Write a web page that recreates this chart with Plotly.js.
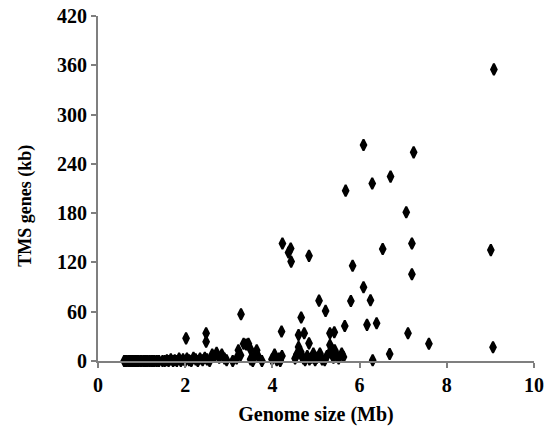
<!DOCTYPE html>
<html>
<head>
<meta charset="utf-8">
<script src="https://cdn.plot.ly/plotly-3.0.1.min.js"></script>
<style>html,body{margin:0;padding:0;background:#fff;}#chart{width:545px;height:427px;}</style>
</head>
<body>
<div id="chart"></div>
<script>
// Genome size (Mb) and TMS genes (kb)
const genomeSize = [
  0.60,0.63,0.66,0.70,0.73,0.76,0.80,0.83,0.87,0.90,0.93,0.97,1.00,1.04,1.07,1.10,1.14,1.18,1.22,1.26,1.30,1.35,1.40,
  1.48,1.53,1.58,1.62,1.67,1.72,1.76,1.81,1.86,1.90,1.95,2.00,2.04,2.09,2.14,2.19,2.24,2.29,2.34,2.40,2.45,2.50,2.56,
  2.62,2.67,2.72,2.78,2.84,2.90,2.95,3.09,
  3.18,3.22,3.27,3.34,3.40,3.45,3.50,3.55,3.60,3.64,3.68,3.76,3.50,
  3.99,4.05,4.10,4.15,4.18,4.22,
  4.52,4.56,4.60,4.65,4.68,4.71,4.75,4.80,4.85,4.90,4.94,4.98,5.02,5.09,5.14,5.20,5.25,5.32,5.36,5.32,5.40,5.43,5.48,5.52,5.59,5.63,
  2.02,2.48,2.48,3.28,4.21,4.23,4.42,4.37,4.43,4.84,4.60,4.73,4.66,4.84,5.07,5.22,5.32,5.42,5.66,5.80,5.84,6.09,6.25,6.17,6.39,
  6.30,6.69,7.11,7.59,5.68,6.09,7.24,6.71,6.29,7.07,7.20,7.20,6.53,9.01,9.08,9.06
];
const tmsGenes = [
  0,0,0,0,0,0,0,0,0,0,0,0,0,0,0,0,0,0,0,0,0,0,0,
  0,0,1,0,2,0,1,0,3,0,2,0,3,1,0,4,2,0,3,1,4,2,0,
  8,5,10,4,8,3,1,0,
  3,13,7,21,20,21,14,0,8,13,5,0,2,
  2,8,1,3,0,6,
  3,8,17,11,5,3,1,6,2,4,9,1,4,9,2,1,6,11,15,19.5,4,13,7,3,9,5,
  27.6,33.7,23.5,57,36,143,137,132,121,128,31.7,33.7,53,21.5,73.5,61,33.7,35,42.6,73,116,89.7,74,44,46,
  1,8.5,33.7,21,207.4,263,254,224.5,216,181,143,105.6,136.4,135,355,16.7
];
const xTicks = [0,2,4,6,8,10];
const yTicks = [0,60,120,180,240,300,360,420];
const xTitle = 'Genome size (Mb)';
const yTitle = 'TMS genes (kb)';

const serif = 'Liberation Serif, Times New Roman, serif';
const trace = {
  x: genomeSize, y: tmsGenes, type: 'scatter', mode: 'markers',
  marker: {symbol: 'diamond-tall', size: 8, color: '#000', line: {color: '#000', width: 2}},
  cliponaxis: false, hoverinfo: 'skip'
};
const axisCommon = {
  showgrid: false, zeroline: false, showline: true, linecolor: '#7f7f7f', linewidth: 2,
  ticks: 'outside', ticklen: 5, tickwidth: 2, tickcolor: '#7f7f7f',
  tickfont: {family: serif, size: 20, color: '#000'}
};
const layout = {
  width: 545, height: 427,
  margin: {l: 98, r: 11, t: 16, b: 66},
  paper_bgcolor: '#fff', plot_bgcolor: '#fff',
  showlegend: false,
  xaxis: Object.assign({}, axisCommon, {
    range: [0, 10], tickvals: xTicks, ticktext: xTicks.map(v => '<b>' + v + '</b>'),
    title: {text: '<b>' + xTitle + '</b>', font: {family: serif, size: 20, color: '#000'}, standoff: 12}
  }),
  yaxis: Object.assign({}, axisCommon, {
    range: [0, 420], tickvals: yTicks, ticktext: yTicks.map(v => '<b>' + v + '</b>')
  }),
  annotations: [{
    text: '<b>' + yTitle + '</b>', xref: 'paper', yref: 'paper', x: 0, y: 0.45,
    xanchor: 'center', yanchor: 'middle', xshift: -72, textangle: -90, showarrow: false,
    font: {family: serif, size: 18, color: '#000'}
  }]
};
Plotly.newPlot('chart', [trace], layout, {displayModeBar: false, staticPlot: true});
</script>
</body>
</html>
